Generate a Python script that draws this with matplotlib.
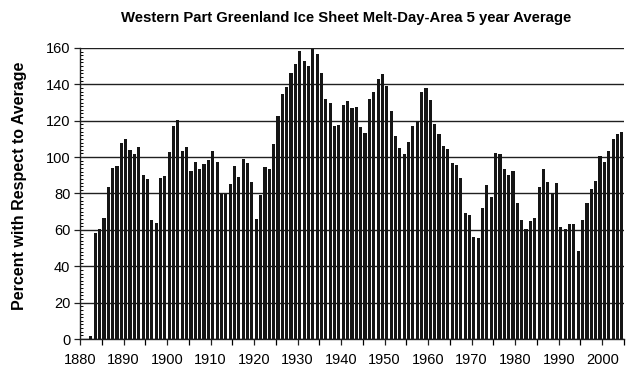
import numpy as np
import matplotlib
matplotlib.use("Agg")
import matplotlib.pyplot as plt
from matplotlib.ticker import MultipleLocator

plt.rcParams['font.family'] = ['Liberation Sans', 'DejaVu Sans']

years = list(range(1882, 2005))
values = [
    1.5,                                                   # 1882
    58.5, 60.5, 66.3, 83.8, 94.0, 95.0, 108.0,             # 1883-1889
    109.8, 103.7, 101.5, 105.4, 90.4, 88.0, 65.4, 63.6, 88.3, 89.6,   # 1890-1899
    102.6, 117.0, 120.2, 103.4, 105.4, 92.6, 97.1, 93.3, 96.2, 98.2,  # 1900-1909
    103.6, 97.5, 79.7, 79.5, 85.4, 95.3, 89.3, 99.0, 96.6, 86.5,      # 1910-1919
    65.8, 79.2, 94.8, 93.3, 107.0, 122.6, 134.5, 138.7, 146.0, 151.2, # 1920-1929
    158.4, 152.9, 150.3, 159.5, 156.7, 146.0, 131.8, 130.0, 117.1, 117.7,  # 1930-1939
    128.7, 131.0, 127.2, 127.4, 116.8, 113.1, 131.8, 135.8, 142.8, 145.5,  # 1940-1949
    139.1, 125.5, 111.6, 105.2, 101.7, 108.5, 117.1, 119.9, 136.0, 138.2,  # 1950-1959
    131.2, 118.0, 112.5, 106.1, 104.3, 96.6, 95.5, 88.5, 69.1, 68.2,       # 1960-1969
    55.9, 55.4, 71.8, 84.7, 78.3, 102.5, 101.9, 93.7, 90.2, 92.4,          # 1970-1979
    75.0, 65.3, 60.3, 64.8, 66.3, 83.8, 93.3, 86.2, 80.3, 85.6,            # 1980-1989
    61.5, 60.4, 63.2, 63.2, 48.4, 65.5, 74.8, 82.3, 86.6, 100.5,           # 1990-1999
    97.3, 103.5, 109.8, 112.6, 113.9,                                       # 2000-2004
]

title = "Western Part Greenland Ice Sheet Melt-Day-Area 5 year Average"
ylabel = "Percent with Respect to Average"

fig = plt.figure(figsize=(6.38, 3.79), dpi=100)
ax = fig.add_axes([0.1254, 0.1055, 0.8526, 0.768])

x = np.array(years) + 0.5
ax.bar(x, values, width=0.72, color='#151515', zorder=3)

ax.set_xlim(1880, 2005)
ax.set_ylim(0, 160)

ax.yaxis.set_major_locator(MultipleLocator(20))
ax.yaxis.set_minor_locator(MultipleLocator(2))
ax.xaxis.set_major_locator(MultipleLocator(10))
ax.xaxis.set_minor_locator(MultipleLocator(5))

ax.grid(axis='y', which='major', color='#202020', linewidth=1.0, zorder=1)
ax.tick_params(axis='both', which='major', labelsize=10.5, length=4, width=0.9,
               color='#202020', direction='out')
ax.tick_params(axis='x', which='minor', length=4, width=0.9, direction='out')
ax.tick_params(axis='y', which='minor', length=2.5, width=0.7, direction='in')
ax.tick_params(axis='y', pad=3)
ax.tick_params(axis='x', pad=6)

for s in ['top', 'right']:
    ax.spines[s].set_visible(False)
for s in ['left', 'bottom']:
    ax.spines[s].set_linewidth(1.0)
    ax.spines[s].set_color('#202020')

fig.text(0.030, 0.51, ylabel, rotation=90, ha='center', va='center',
         fontsize=11.5, fontweight='bold')
fig.text(0.542, 0.952, title, ha='center', va='center', fontsize=10.7, fontweight='bold')

fig.savefig("out.png", dpi=100)
